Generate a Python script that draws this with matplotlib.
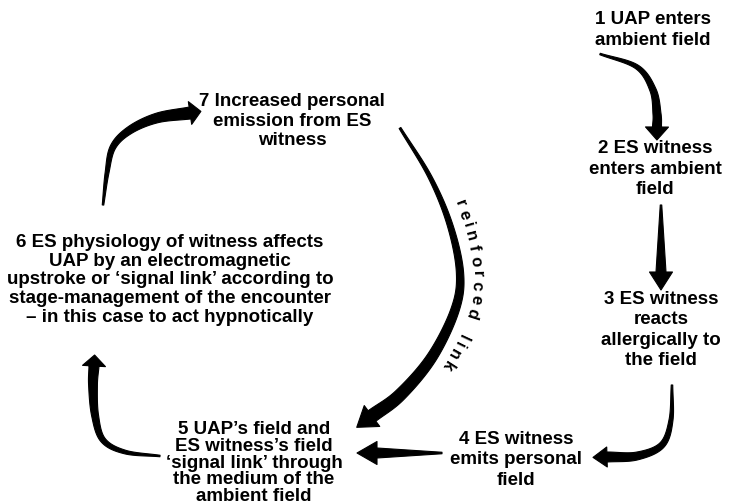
import numpy as np
import matplotlib
matplotlib.use("Agg")
import matplotlib.pyplot as plt
from matplotlib.patches import Polygon
from matplotlib.textpath import TextPath
from matplotlib.font_manager import FontProperties

# step texts of the cycle
steps = [
    "1 UAP enters\nambient field",
    "2 ES witness\nenters ambient\nfield",
    "3 ES witness\nreacts\nallergically to\nthe field",
    "4 ES witness\nemits personal\nfield",
    "5 UAP\u2019s field and\nES witness\u2019s field\n\u2018signal link\u2019 through\nthe medium of the\nambient field",
    "6 ES physiology of witness affects\nUAP by an electromagnetic\nupstroke or \u2018signal link\u2019 according to\nstage-management of the encounter\n\u2013 in this case to act hypnotically",
    "7 Increased personal\nemission from ES\nwitness",
]
link_label = "reinforced link"

# layout (pixel space, y down)
step_xy = [(653, 30), (655, 169), (661, 330), (516, 460), (254, 463), (170, 280), (292, 121)]
step_spacing = [1.3, 1.25, 1.28, 1.25, 0.97, 1.15, 1.2]

# arrows: waypoints, start width, end width, head width, head length
arrows = [
    ([(600, 54), (637, 67), (653, 90), (657, 114), (657, 127)], 1.5, 9, 23, 13),
    ([(661, 205), (661, 240), (661, 272)], 1.5, 10, 23, 18),
    ([(672, 385), (671, 420), (662, 445), (637, 456), (607, 457)], 1.5, 10, 20, 14),
    ([(442, 453), (410, 453), (377, 453)], 1.5, 10, 23, 20),
    ([(400, 128), (430, 177), (450, 225), (460, 273), (455, 310), (432, 357), (400, 395), (372, 416)], 2, 13, 26, 19),
    ([(160, 456), (125, 452), (103, 440), (95, 415), (93, 385), (94, 366)], 1.5, 10, 23, 11),
    ([(103, 205), (107, 173), (113, 147), (130, 130), (157, 118), (190, 113)], 1.5, 12, 23, 11),
]


def spline(pts, n=30):
    P = np.array(pts, float)
    P = np.vstack([2 * P[0] - P[1], P, 2 * P[-1] - P[-2]])
    out = []
    for i in range(1, len(P) - 2):
        p0, p1, p2, p3 = P[i - 1], P[i], P[i + 1], P[i + 2]
        t = np.linspace(0, 1, n, endpoint=False)[:, None]
        out.append(0.5 * (2 * p1 + (-p0 + p2) * t + (2 * p0 - 5 * p1 + 4 * p2 - p3) * t ** 2
                          + (-p0 + 3 * p1 - 3 * p2 + p3) * t ** 3))
    out.append(P[-2][None])
    return np.vstack(out)


def frame(c):
    d = np.gradient(c, axis=0)
    d /= np.linalg.norm(d, axis=1)[:, None]
    n = np.column_stack([d[:, 1], -d[:, 0]])
    s = np.concatenate([[0], np.cumsum(np.linalg.norm(np.diff(c, axis=0), axis=1))])
    return d, n, s


def tapered_arrow(ax, pts, w0, w1, hw, hl):
    c = spline(pts)
    d, n, s = frame(c)
    w = w0 + (w1 - w0) * s / s[-1]
    left = c + n * w[:, None] / 2
    right = c - n * w[:, None] / 2
    tip = c[-1] + d[-1] * hl
    hl_pt = c[-1] + n[-1] * hw / 2
    hr_pt = c[-1] - n[-1] * hw / 2
    poly = np.vstack([left, hl_pt, tip, hr_pt, right[::-1]])
    ax.add_patch(Polygon(poly, closed=True, fc="black", ec="black", lw=0.8, joinstyle="round"))


fig = plt.figure(figsize=(7.34, 5.04), dpi=100)
ax = fig.add_axes([0, 0, 1, 1])
ax.set_xlim(0, 734)
ax.set_ylim(504, 0)
ax.axis("off")

for txt, (x, y), ls in zip(steps, step_xy, step_spacing):
    ax.text(x, y, txt, ha="center", va="center", multialignment="center",
            family="Liberation Sans", weight="bold", fontsize=13.5, linespacing=ls)

for pts, w0, w1, hw, hl in arrows:
    tapered_arrow(ax, pts, w0, w1, hw, hl)

# "reinforced link" written along the outside of the reinforced arrow
c = spline(arrows[4][0], n=60)
d, n, s = frame(c)
off = c + n * 17
d2, n2, s2 = frame(off)
prop = FontProperties(family="Liberation Sans", weight="bold", size=12)
pos = 90.0
for ch in link_label:
    wch = TextPath((0, 0), ch, prop=prop).get_extents().width if ch != " " else 6
    wch = wch * 100 / 72 + 5.8
    mid = pos + wch / 2
    i = min(np.searchsorted(s2, mid), len(s2) - 1)
    x, y = off[i]
    ang = np.degrees(np.arctan2(-d2[i, 1], d2[i, 0]))
    if ch != " ":
        ax.text(x, y, ch, rotation=ang, rotation_mode="anchor", ha="center", va="center",
                fontproperties=prop)
    pos += wch

fig.savefig("out.png", dpi=100, facecolor="white")
